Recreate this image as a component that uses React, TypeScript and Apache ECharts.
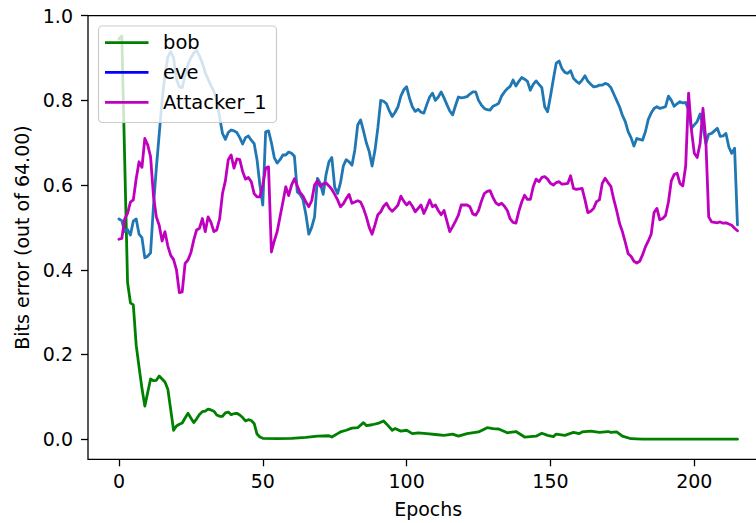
import React, { useEffect, useRef } from "react";
import * as echarts from "echarts";

// bob: sparse samples (epoch, bit error fraction)
const bobEpochs = [
  0, 1, 3, 4, 5, 6, 7, 8, 9, 11, 12, 13, 14, 15, 16, 17, 19, 20, 21, 22, 23, 24, 25, 26, 27, 28, 29, 30,
  31, 32, 33, 34, 35, 36, 37, 38, 39, 40, 41, 42, 43, 44, 45, 46, 47, 48, 49, 50, 55, 60, 65, 69, 73, 74,
  76, 77, 79, 81, 83, 85, 86, 88, 90, 92, 93, 95, 96, 98, 100, 102, 104, 107, 110, 113, 116, 118, 121,
  125, 128, 130, 132, 135, 138, 141, 145, 147, 149, 151, 152, 155, 158, 160, 161, 164, 167, 170, 171,
  173, 175, 178, 182, 215,
];
const bobValues = [
  0.945, 0.952, 0.37, 0.322, 0.317, 0.222, 0.17, 0.12, 0.078, 0.142, 0.138, 0.139, 0.149, 0.142, 0.135,
  0.118, 0.021, 0.031, 0.035, 0.038, 0.05, 0.061, 0.05, 0.039, 0.048, 0.058, 0.065, 0.066, 0.071, 0.069,
  0.066, 0.057, 0.054, 0.054, 0.062, 0.064, 0.058, 0.06, 0.061, 0.057, 0.051, 0.043, 0.046, 0.044, 0.037,
  0.012, 0.005, 0.002, 0.001, 0.002, 0.004, 0.007, 0.008, 0.005, 0.013, 0.017, 0.021, 0.026, 0.027, 0.039,
  0.032, 0.034, 0.037, 0.043, 0.036, 0.021, 0.025, 0.019, 0.021, 0.013, 0.015, 0.013, 0.011, 0.009,
  0.012, 0.007, 0.013, 0.017, 0.027, 0.025, 0.024, 0.015, 0.018, 0.005, 0.007, 0.014, 0.009, 0.006,
  0.012, 0.009, 0.016, 0.013, 0.017, 0.019, 0.016, 0.018, 0.016, 0.017, 0.007, 0.001, 0.0, 0.0,
];

// eve: one value per epoch, starting at epoch 0
const eveValues = [
  0.52, 0.516, 0.49, 0.495, 0.482, 0.515, 0.52, 0.484, 0.476, 0.428, 0.432, 0.44, 0.55, 0.64, 0.72, 0.8,
  0.86, 0.902, 0.915, 0.9, 0.85, 0.832, 0.83, 0.86, 0.885, 0.9, 0.912, 0.918, 0.905, 0.888, 0.866, 0.85,
  0.835, 0.822, 0.8, 0.76, 0.722, 0.708, 0.724, 0.73, 0.728, 0.724, 0.712, 0.697, 0.712, 0.716, 0.706,
  0.698, 0.66, 0.6, 0.553, 0.726, 0.728, 0.7, 0.665, 0.652, 0.66, 0.671, 0.671, 0.678, 0.675, 0.668,
  0.584, 0.578, 0.565, 0.53, 0.484, 0.5, 0.525, 0.616, 0.604, 0.578, 0.625, 0.655, 0.665, 0.595, 0.58,
  0.605, 0.645, 0.66, 0.655, 0.647, 0.683, 0.742, 0.754, 0.728, 0.7, 0.679, 0.645, 0.682, 0.735, 0.8,
  0.798, 0.792, 0.775, 0.762, 0.772, 0.785, 0.81, 0.825, 0.832, 0.805, 0.785, 0.774, 0.779, 0.772, 0.77,
  0.79, 0.808, 0.817, 0.8, 0.808, 0.82, 0.806, 0.79, 0.775, 0.766, 0.788, 0.808, 0.806, 0.807, 0.809,
  0.815, 0.82, 0.82, 0.8, 0.789, 0.781, 0.778, 0.777, 0.786, 0.789, 0.793, 0.81, 0.82, 0.828, 0.833,
  0.848, 0.834, 0.845, 0.854, 0.85, 0.845, 0.824, 0.838, 0.846, 0.838, 0.83, 0.785, 0.773, 0.81, 0.85,
  0.888, 0.893, 0.875, 0.866, 0.864, 0.87, 0.852, 0.845, 0.84, 0.848, 0.858, 0.845, 0.838, 0.832, 0.833,
  0.836, 0.836, 0.84, 0.838, 0.83, 0.815, 0.8, 0.785, 0.765, 0.75, 0.726, 0.712, 0.692, 0.71, 0.708,
  0.706, 0.726, 0.755, 0.77, 0.781, 0.785, 0.781, 0.783, 0.785, 0.81, 0.8, 0.786, 0.792, 0.797, 0.794,
  0.795, 0.777, 0.734, 0.742, 0.75, 0.768, 0.74, 0.698, 0.72, 0.722, 0.728, 0.734, 0.715, 0.716, 0.722,
  0.69, 0.675, 0.687, 0.506,
];

// Attacker_1: one value per epoch, starting at epoch 0
const attackerValues = [
  0.472, 0.474, 0.52, 0.533, 0.56, 0.565, 0.615, 0.655, 0.642, 0.71, 0.695, 0.667, 0.575, 0.525, 0.505,
  0.468, 0.49, 0.456, 0.434, 0.424, 0.4, 0.346, 0.348, 0.415, 0.423, 0.44, 0.47, 0.494, 0.498, 0.521,
  0.49, 0.525, 0.512, 0.49, 0.494, 0.52, 0.58, 0.61, 0.66, 0.671, 0.64, 0.662, 0.66, 0.632, 0.614, 0.618,
  0.608, 0.58, 0.572, 0.572, 0.6, 0.64, 0.643, 0.442, 0.468, 0.49, 0.525, 0.56, 0.596, 0.575, 0.6, 0.615,
  0.598, 0.582, 0.574, 0.56, 0.549, 0.563, 0.6, 0.61, 0.597, 0.603, 0.605, 0.598, 0.59, 0.578, 0.565,
  0.549, 0.556, 0.568, 0.578, 0.557, 0.56, 0.563, 0.56, 0.545, 0.525, 0.5, 0.484, 0.506, 0.53, 0.537,
  0.55, 0.557, 0.545, 0.538, 0.545, 0.553, 0.574, 0.562, 0.553, 0.56, 0.55, 0.537, 0.545, 0.553, 0.533,
  0.548, 0.565, 0.549, 0.553, 0.54, 0.53, 0.54, 0.515, 0.49, 0.502, 0.515, 0.529, 0.553, 0.553, 0.553,
  0.549, 0.532, 0.529, 0.54, 0.562, 0.58, 0.585, 0.587, 0.571, 0.558, 0.553, 0.557, 0.55, 0.54, 0.52,
  0.512, 0.51, 0.538, 0.56, 0.576, 0.566, 0.566, 0.596, 0.614, 0.608, 0.618, 0.62, 0.614, 0.604, 0.6,
  0.606, 0.608, 0.602, 0.603, 0.604, 0.622, 0.592, 0.59, 0.591, 0.592, 0.565, 0.535, 0.538, 0.545,
  0.561, 0.565, 0.604, 0.616, 0.606, 0.597, 0.566, 0.54, 0.51, 0.49, 0.465, 0.438, 0.432, 0.42, 0.416,
  0.42, 0.435, 0.454, 0.468, 0.484, 0.535, 0.545, 0.518, 0.521, 0.528, 0.56, 0.61, 0.625, 0.628, 0.604,
  0.598, 0.645, 0.817, 0.73, 0.675, 0.665, 0.698, 0.781, 0.706, 0.525, 0.513, 0.512, 0.511, 0.513, 0.51,
  0.511, 0.508, 0.505, 0.498, 0.492,
];

const xTicks = [0, 50, 100, 150, 200];
const yTicks = [0, 0.2, 0.4, 0.6, 0.8, 1.0];
const legendNames = ["bob", "eve", "Attacker_1"];

const FONT = '"DejaVu Sans", "Liberation Sans", sans-serif';
const GREEN = "#008000";
const STEEL = "#1f77b4";
const BLUE = "#0000ff";
const MAGENTA = "#bf00bf";
const LINE_W = 2.8;

export default function App() {
  const ref = useRef<HTMLDivElement>(null);

  useEffect(() => {
    if (!ref.current) return;
    const chart = echarts.init(ref.current, null, { renderer: "svg" });

    const bobData = bobEpochs.map((e, i) => [e, bobValues[i]]);
    const eveData = eveValues.map((v, i) => [i, v]);
    const attackerData = attackerValues.map((v, i) => [i, v]);

    const lineSeries = (name: string, data: number[][], color: string, z: number) => ({
      name,
      type: "line",
      data,
      showSymbol: false,
      symbol: "none",
      z,
      lineStyle: { color, width: LINE_W, cap: "round", join: "round" },
      itemStyle: { color },
    });

    // Legend box drawn by hand so the eve swatch keeps its own colour
    const legendColors = [GREEN, BLUE, MAGENTA];
    const legendRows = [42.7, 72.3, 102.3];
    const legendElements: any[] = [
      {
        type: "rect",
        z: 100,
        shape: { x: 98.5, y: 26, width: 178, height: 96.5, r: 4 },
        style: { fill: "rgba(255,255,255,0.8)", stroke: "#cccccc", lineWidth: 1.2 },
      },
    ];
    legendNames.forEach((n, i) => {
      legendElements.push({
        type: "line",
        z: 101,
        shape: { x1: 105, y1: legendRows[i], x2: 148.5, y2: legendRows[i] },
        style: { stroke: legendColors[i], lineWidth: LINE_W },
      });
      legendElements.push({
        type: "text",
        z: 101,
        x: 163,
        y: legendRows[i],
        style: {
          text: n,
          fill: "#000",
          font: `19.5px ${FONT}`,
          verticalAlign: "middle",
          align: "left",
        },
      });
    });

    const labelStyle = { color: "#000", fontSize: 19, fontFamily: FONT };

    chart.setOption({
      animation: false,
      backgroundColor: "#ffffff",
      grid: {
        left: 88,
        top: 15.7,
        width: 680.4,
        height: 443.6,
        show: true,
        borderColor: "#000",
        borderWidth: 1.3,
        backgroundColor: "transparent",
        containLabel: false,
        outerBoundsMode: "none",
      },
      xAxis: {
        type: "value",
        min: -10.75,
        max: 225.75,
        axisLine: { show: false, onZero: false },
        splitLine: { show: false },
        axisTick: {
          show: true,
          length: 7,
          inside: false,
          customValues: xTicks,
          lineStyle: { color: "#000", width: 1.3 },
        },
        axisLabel: {
          ...labelStyle,
          margin: 12,
          customValues: xTicks,
          formatter: (v: number) => String(v),
        },
        name: "Epochs",
        nameLocation: "middle",
        nameGap: 40,
        nameTextStyle: { ...labelStyle },
      },
      yAxis: {
        type: "value",
        min: -0.0476,
        max: 1.0,
        axisLine: { show: false, onZero: false },
        splitLine: { show: false },
        axisTick: {
          show: true,
          length: 7,
          inside: false,
          customValues: yTicks,
          lineStyle: { color: "#000", width: 1.3 },
        },
        axisLabel: {
          ...labelStyle,
          margin: 15,
          customValues: yTicks,
          formatter: (v: number) => v.toFixed(1),
        },
        name: "Bits error (out of 64.00)",
        nameLocation: "middle",
        nameRotate: 90,
        nameGap: 52,
        nameTextStyle: { ...labelStyle },
      },
      series: [
        lineSeries("bob", bobData, GREEN, 2),
        lineSeries("eve", eveData, STEEL, 3),
        lineSeries("Attacker_1", attackerData, MAGENTA, 4),
      ],
      graphic: legendElements,
    });

    return () => chart.dispose();
  }, []);

  return (
    <div
      ref={ref}
      style={{ position: "fixed", left: 0, top: 0, width: 756, height: 523, background: "#fff" }}
    />
  );
}
